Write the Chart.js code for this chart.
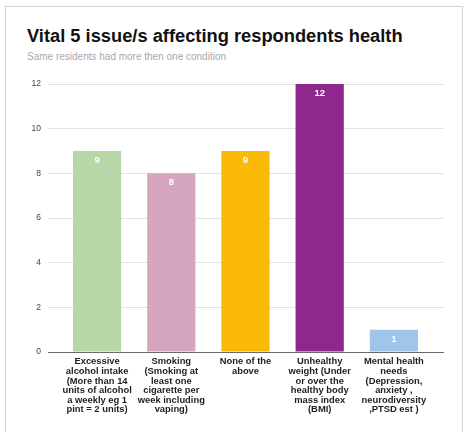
<!DOCTYPE html>
<html>
<head>
<meta charset="utf-8">
<script src="https://cdn.jsdelivr.net/npm/chart.js@4/dist/chart.umd.min.js"></script>
<style>
  body { margin: 0; background: #fff; }
  #wrap { position: relative; width: 463px; height: 432px; overflow: hidden; font-family: "Liberation Sans", Arial, sans-serif; }
  .card { position: absolute; left: 5px; top: 6px; width: 456px; height: 440px; border: 1px solid #d4d4d4; }
  .title { position: absolute; left: 27px; top: 27px; font-size: 18.3px; line-height: 18px; font-weight: bold; color: #111; white-space: nowrap; }
  .sub { position: absolute; left: 27px; top: 52px; font-size: 10px; line-height: 10px; color: #a8a8a8; white-space: nowrap; }
  canvas { position: absolute; left: 0; top: 0; }
</style>
</head>
<body>
<div id="wrap">
  <div class="card"></div>
  <div class="title">Vital 5 issue/s affecting respondents health</div>
  <div class="sub">Same residents had more then one condition</div>
  <canvas id="chart" width="463" height="432"></canvas>
</div>
<script>
const categories = [
  ['Excessive', 'alcohol intake', '(More than 14', 'units of alcohol', 'a weekly eg 1', 'pint = 2 units)'],
  ['Smoking', '(Smoking at', 'least one', 'cigarette per', 'week including', 'vaping)'],
  ['None of the', 'above'],
  ['Unhealthy', 'weight (Under', 'or over the', 'healthy body', 'mass index', '(BMI)'],
  ['Mental health', 'needs', '(Depression,', 'anxiety ,', 'neurodiversity', ',PTSD est )']
];
const counts = [9, 8, 9, 12, 1];
const barColors = ['#b7d7a8', '#d5a6bd', '#fbb90a', '#8e288f', '#9fc5e8'];
const yTicks = [0, 2, 4, 6, 8, 10, 12];

const gridColor = ctx => ctx.tick && ctx.tick.value === 0 ? '#6a6a6a' : '#e2e2e2';

// white value labels just inside the top of each bar
const valueLabels = {
  id: 'valueLabels',
  afterDatasetsDraw(chart) {
    const c = chart.ctx;
    const meta = chart.getDatasetMeta(0);
    c.save();
    c.fillStyle = '#fff';
    c.font = 'bold 9.5px "Liberation Sans", Arial, sans-serif';
    c.textAlign = 'center';
    c.textBaseline = 'middle';
    meta.data.forEach((bar, i) => c.fillText(String(counts[i]), bar.x, bar.y + 9.5));
    c.restore();
  }
};

new Chart(document.getElementById('chart'), {
  type: 'bar',
  data: {
    labels: categories,
    datasets: [{
      data: counts,
      backgroundColor: barColors,
      barPercentage: 0.65,
      categoryPercentage: 1
    }]
  },
  options: {
    responsive: false,
    animation: false,
    layout: { padding: { top: 84, left: 0, right: 0, bottom: 0 } },
    plugins: {
      legend: { display: false },
      tooltip: { enabled: false }
    },
    scales: {
      x: {
        grid: { display: false, drawTicks: false },
        border: { display: false },
        ticks: {
          color: '#1e1e1e',
          font: { family: '"Liberation Sans", Arial, sans-serif', size: 9.4, weight: 'bold', lineHeight: 1.02 },
          padding: 5,
          maxRotation: 0,
          minRotation: 0,
          autoSkip: false
        },
        afterFit: s => { s.height = 80; }
      },
      y: {
        min: yTicks[0],
        max: yTicks[yTicks.length - 1],
        border: { display: false },
        grid: { color: gridColor, tickColor: gridColor, tickLength: 12 },
        ticks: {
          stepSize: 2,
          color: '#444',
          padding: 7,
          font: { family: '"Liberation Sans", Arial, sans-serif', size: 8.5 }
        },
        afterFit: s => { s.width = 60; }
      },
      y2: {
        position: 'right',
        min: yTicks[0],
        max: yTicks[yTicks.length - 1],
        border: { display: false },
        grid: { drawOnChartArea: false, tickColor: gridColor, tickLength: 13 },
        ticks: { stepSize: 2, color: 'transparent' },
        afterFit: s => { s.width = 32; }
      }
    }
  },
  plugins: [valueLabels]
});
</script>
</body>
</html>
